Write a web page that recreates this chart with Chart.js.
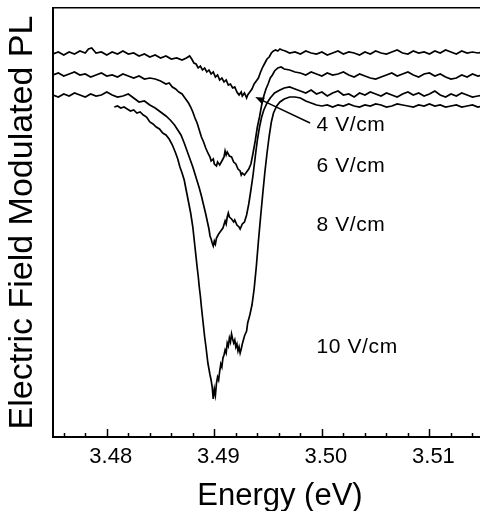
<!DOCTYPE html>
<html><head><meta charset="utf-8">
<script src="https://cdn.jsdelivr.net/npm/chart.js@4"></script>
<style>html,body{margin:0;padding:0;background:#fff;overflow:hidden}canvas{display:block}</style>
</head><body>
<canvas id="c" width="480" height="511"></canvas>
<script>
// ---- tick values ----
const MAJOR_TICKS = [3.48, 3.49, 3.50, 3.51];
const MINOR_TICKS = [3.476,3.478,3.482,3.484,3.486,3.488,3.492,3.494,3.496,3.498,3.502,3.504,3.506,3.508,3.512,3.514];
const SERIES_NAMES = ['4 V/cm', '6 V/cm', '8 V/cm', '10 V/cm'];

// ---- 4 V/cm ----
const E_4V = [
3.4750,3.4755,3.4760,3.4765,3.4770,3.4775,3.4780,3.4783,3.4786,3.4790,
3.4795,3.4800,3.4805,3.4810,3.4815,3.4820,3.4825,3.4830,3.4835,3.4840,
3.4845,3.4850,3.4855,3.4860,3.4865,3.4870,3.4874,3.4877,3.4879,3.4881,
3.4883,3.4885,3.4887,3.4889,3.4891,3.4893,3.4895,3.4897,3.4899,3.4901,
3.4903,3.4905,3.4907,3.4909,3.4911,3.4913,3.4915,3.4917,3.4919,3.4921,
3.4923,3.4925,3.4926,3.4928,3.4930,3.4931,3.4933,3.4935,3.4937,3.4939,
3.4941,3.4943,3.4945,3.4947,3.4949,3.4951,3.4953,3.4955,3.4957,3.4959,
3.4961,3.4963,3.4966,3.4970,3.4975,3.4980,3.4985,3.4990,3.4995,3.5000,
3.5005,3.5010,3.5015,3.5020,3.5025,3.5030,3.5035,3.5040,3.5045,3.5050,
3.5055,3.5060,3.5065,3.5070,3.5075,3.5080,3.5085,3.5090,3.5095,3.5100,
3.5105,3.5110,3.5115,3.5120,3.5125,3.5130,3.5135,3.5140,3.5145,3.5150];
const PL_4V = [
38.3,38.5,38.2,38.5,38.3,38.6,38.4,38.8,38.9,38.4,
38.5,38.2,38.5,38.3,38.6,38.3,38.4,38.1,38.3,38.0,
38.2,37.9,38.1,37.8,37.9,37.7,37.9,38.1,37.8,37.4,
37.3,36.9,37.1,36.7,36.9,36.5,36.7,36.3,36.5,36.0,
36.2,35.7,35.9,35.5,35.7,35.2,35.3,34.9,35.0,34.5,
34.2,34.5,34.1,34.4,33.9,34.2,34.5,34.8,35.3,35.6,
35.9,36.5,37.0,37.4,37.8,38.0,38.4,38.6,38.7,38.6,
38.8,38.7,38.6,38.4,38.5,38.3,38.6,38.4,38.3,38.5,
38.2,38.4,38.6,38.3,38.5,38.4,38.2,38.5,38.3,38.6,
38.4,38.3,38.5,38.7,38.4,38.3,38.6,38.4,38.5,38.3,
38.6,38.4,38.7,38.5,38.3,38.6,38.4,38.5,38.4,38.5];

// ---- 6 V/cm ----
const E_6V = [
3.4750,3.4755,3.4760,3.4765,3.4770,3.4775,3.4780,3.4785,3.4790,3.4795,
3.4800,3.4805,3.4810,3.4815,3.4820,3.4825,3.4830,3.4835,3.4840,3.4845,
3.4850,3.4855,3.4858,3.4861,3.4864,3.4867,3.4870,3.4872,3.4874,3.4876,
3.4878,3.4880,3.4882,3.4884,3.4886,3.4888,3.4890,3.4892,3.4894,3.4896,
3.4897,3.4899,3.4900,3.4902,3.4903,3.4905,3.4907,3.4909,3.4910,3.4911,
3.4912,3.4914,3.4916,3.4918,3.4920,3.4922,3.4924,3.4925,3.4926,3.4928,
3.4930,3.4932,3.4934,3.4936,3.4938,3.4940,3.4942,3.4944,3.4946,3.4948,
3.4950,3.4952,3.4954,3.4956,3.4959,3.4962,3.4965,3.4970,3.4975,3.4980,
3.4985,3.4990,3.4995,3.5000,3.5005,3.5010,3.5015,3.5020,3.5025,3.5030,
3.5035,3.5040,3.5045,3.5050,3.5055,3.5060,3.5065,3.5070,3.5075,3.5080,
3.5085,3.5090,3.5095,3.5100,3.5105,3.5110,3.5115,3.5120,3.5125,3.5130,
3.5135,3.5140,3.5145,3.5150];
const PL_6V = [
36.2,36.4,36.1,36.3,36.5,36.2,36.3,36.0,36.2,36.4,
36.1,36.2,36.0,36.3,36.1,35.9,36.1,35.8,35.9,35.8,
35.6,35.3,35.4,35.0,34.8,34.5,34.3,34.0,33.7,33.4,
33.0,32.5,31.9,31.4,30.7,30.0,29.5,28.9,28.4,28.0,
27.6,27.8,27.3,27.1,27.5,27.2,27.6,28.0,28.6,28.2,
28.5,28.1,28.0,27.5,27.3,26.8,26.6,26.2,26.4,26.2,
26.5,26.8,27.3,28.4,29.6,31.0,32.0,33.2,34.1,34.8,
35.3,35.9,36.2,36.6,36.9,37.0,36.8,36.7,36.5,36.4,
36.2,36.5,36.3,36.1,36.4,36.2,36.3,36.5,36.2,36.0,
36.3,36.1,35.9,35.8,36.0,36.2,36.4,36.1,36.3,36.5,
36.2,36.0,36.3,36.4,36.1,36.3,36.0,35.8,35.9,36.2,
36.0,36.3,36.1,36.2];

// ---- 8 V/cm ----
const E_8V = [
3.4750,3.4755,3.4760,3.4765,3.4770,3.4775,3.4780,3.4785,3.4790,3.4795,
3.4800,3.4805,3.4810,3.4815,3.4820,3.4825,3.4830,3.4835,3.4840,3.4845,
3.4850,3.4855,3.4859,3.4863,3.4866,3.4869,3.4872,3.4875,3.4878,3.4880,
3.4882,3.4884,3.4886,3.4888,3.4890,3.4892,3.4894,3.4895,3.4896,3.4897,
3.4898,3.4899,3.4900,3.4901,3.4902,3.4904,3.4906,3.4908,3.4910,3.4911,
3.4912,3.4913,3.4914,3.4916,3.4918,3.4919,3.4921,3.4923,3.4924,3.4926,
3.4928,3.4930,3.4932,3.4934,3.4936,3.4938,3.4940,3.4942,3.4944,3.4946,
3.4949,3.4952,3.4956,3.4961,3.4965,3.4970,3.4975,3.4980,3.4985,3.4990,
3.4995,3.5000,3.5005,3.5010,3.5015,3.5020,3.5025,3.5030,3.5035,3.5040,
3.5045,3.5050,3.5055,3.5060,3.5065,3.5070,3.5075,3.5080,3.5085,3.5090,
3.5095,3.5100,3.5105,3.5110,3.5115,3.5120,3.5125,3.5130,3.5135,3.5140,
3.5145,3.5150];
const PL_8V = [
34.2,34.0,34.3,34.1,34.4,34.2,34.0,34.3,34.1,34.2,
34.5,34.2,34.0,34.1,34.3,33.9,33.5,33.6,33.2,32.9,
32.5,32.1,31.7,31.2,30.7,30.2,29.4,28.5,27.6,27.0,
26.3,25.6,24.9,24.1,23.2,22.3,21.3,20.8,20.1,19.8,
19.4,19.1,19.6,19.3,19.9,20.3,20.6,20.9,21.6,21.3,
22.0,22.4,22.0,21.8,21.5,21.7,21.2,21.0,20.8,21.3,
21.5,22.2,23.3,24.7,26.2,28.0,29.7,31.0,32.0,32.7,
33.4,33.9,34.4,34.7,34.9,35.0,34.8,34.6,34.4,34.7,
34.3,34.5,34.1,34.4,34.6,34.2,34.3,34.0,34.4,34.2,
34.5,34.3,34.1,34.4,34.2,34.0,34.3,34.5,34.2,34.4,
34.1,34.3,34.6,34.2,34.0,34.3,34.1,34.4,34.2,34.0,
34.1,34.2];

// ---- 10 V/cm ----
const E_10V = [
3.4807,3.4810,3.4813,3.4816,3.4819,3.4822,3.4825,3.4828,3.4831,3.4834,
3.4837,3.4840,3.4843,3.4846,3.4849,3.4852,3.4855,3.4858,3.4861,3.4864,
3.4866,3.4868,3.4870,3.4872,3.4874,3.4876,3.4878,3.4880,3.4881,3.4882,
3.4883,3.4884,3.4885,3.4886,3.4887,3.4888,3.4889,3.4890,3.4891,3.4892,
3.4893,3.4894,3.4895,3.4896,3.4897,3.4898,3.4899,3.4900,3.4901,3.4902,
3.4903,3.4904,3.4905,3.4906,3.4907,3.4908,3.4909,3.4910,3.4911,3.4912,
3.4913,3.4914,3.4915,3.4916,3.4917,3.4918,3.4919,3.4920,3.4921,3.4922,
3.4923,3.4924,3.4925,3.4926,3.4928,3.4930,3.4931,3.4933,3.4935,3.4937,
3.4939,3.4941,3.4943,3.4945,3.4947,3.4949,3.4951,3.4953,3.4955,3.4958,
3.4961,3.4965,3.4970,3.4975,3.4980,3.4985,3.4990,3.4995,3.5000,3.5005,
3.5010,3.5015,3.5020,3.5025,3.5030,3.5035,3.5040,3.5045,3.5050,3.5055,
3.5060,3.5065,3.5070,3.5075,3.5080,3.5085,3.5090,3.5095,3.5100,3.5105,
3.5110,3.5115,3.5120,3.5125,3.5130,3.5135,3.5140,3.5145,3.5150];
const PL_10V = [
33.0,33.1,32.9,33.0,32.8,32.6,32.7,32.4,32.5,32.2,
32.0,31.5,31.3,31.0,30.8,30.4,30.2,29.8,29.2,28.4,
27.8,27.0,26.4,25.7,24.6,23.5,22.4,21.0,20.0,19.0,
18.0,17.0,16.1,15.0,14.1,13.0,12.0,11.0,10.0,9.2,
8.3,7.4,6.8,6.2,5.7,5.0,3.8,4.8,4.2,5.4,
6.0,5.7,6.6,7.3,7.0,7.9,8.2,8.7,8.4,9.4,
9.1,9.9,9.5,10.3,9.8,9.4,9.7,9.0,9.3,8.6,
9.0,8.4,8.8,9.3,10.1,10.6,11.4,12.2,13.2,14.8,
17.0,19.6,22.0,24.3,26.5,28.4,30.1,31.5,32.4,33.1,
33.5,33.8,34.0,34.0,33.9,33.6,33.4,33.2,33.1,33.2,
33.0,33.2,33.1,33.3,33.1,33.0,33.2,33.1,33.3,33.2,
33.0,33.1,33.3,33.2,33.1,33.0,33.2,33.1,33.3,33.1,
33.2,33.0,33.1,33.2,33.0,33.1,33.2,33.0,33.1];

// ---- annotation anchors (data coordinates) ----
const ANNOT = {
  labels: [{x:3.4995, y:30.6}, {x:3.4995, y:26.5}, {x:3.4995, y:20.6}, {x:3.4995, y:8.4}],
  arrowFrom: {x:3.4989, y:31.4},
  arrowTo: {x:3.4938, y:34.0},
  xTitleAt: 3.4961
};

const FONT = '"Liberation Sans", Arial, Helvetica, sans-serif';
const toPoints = (E, P) => E.map((e, i) => ({x: e, y: P[i]}));
const SERIES = [[E_4V, PL_4V], [E_6V, PL_6V], [E_8V, PL_8V], [E_10V, PL_10V]];

const annotPlugin = {
  id: 'annot',
  afterDraw(chart) {
    const {ctx, scales: {x, y}} = chart;
    const yb = y.getPixelForValue(y.min);
    ctx.save();
    ctx.strokeStyle = '#000';
    ctx.fillStyle = '#000';
    ctx.lineWidth = 1.5;
    const tick = (v, len) => {
      const px = Math.round(x.getPixelForValue(v)) + 0.5;
      ctx.beginPath(); ctx.moveTo(px, yb); ctx.lineTo(px, yb - len); ctx.stroke();
    };
    MAJOR_TICKS.forEach(v => tick(v, 8));
    MINOR_TICKS.forEach(v => tick(v, 4));

    ctx.font = '21px ' + FONT;
    ctx.textAlign = 'left';
    ctx.textBaseline = 'alphabetic';
    try { ctx.letterSpacing = '0.6px'; } catch (e) {}
    SERIES_NAMES.forEach((t, i) => {
      const p = ANNOT.labels[i];
      ctx.fillText(t, x.getPixelForValue(p.x), y.getPixelForValue(p.y));
    });
    try { ctx.letterSpacing = '0px'; } catch (e) {}

    // arrow
    const x1 = x.getPixelForValue(ANNOT.arrowFrom.x), y1 = y.getPixelForValue(ANNOT.arrowFrom.y);
    const x2 = x.getPixelForValue(ANNOT.arrowTo.x), y2 = y.getPixelForValue(ANNOT.arrowTo.y);
    const ang = Math.atan2(y2 - y1, x2 - x1);
    ctx.lineWidth = 1.4;
    ctx.beginPath(); ctx.moveTo(x1, y1); ctx.lineTo(x2 - 6 * Math.cos(ang), y2 - 6 * Math.sin(ang)); ctx.stroke();
    ctx.beginPath();
    ctx.moveTo(x2, y2);
    ctx.lineTo(x2 - 9 * Math.cos(ang) + 3.5 * Math.sin(ang), y2 - 9 * Math.sin(ang) - 3.5 * Math.cos(ang));
    ctx.lineTo(x2 - 9 * Math.cos(ang) - 3.5 * Math.sin(ang), y2 - 9 * Math.sin(ang) + 3.5 * Math.cos(ang));
    ctx.closePath(); ctx.fill();

    // x-axis title
    ctx.font = '31px ' + FONT;
    ctx.textAlign = 'center';
    ctx.fillText('Energy (eV)', x.getPixelForValue(ANNOT.xTitleAt), chart.height - 6);
    ctx.restore();
  }
};

new Chart(document.getElementById('c'), {
  type: 'line',
  data: {
    datasets: SERIES.map((s, i) => ({
      label: SERIES_NAMES[i],
      data: toPoints(s[0], s[1]),
      borderColor: '#000',
      borderWidth: 1.7,
      pointRadius: 0,
      tension: 0,
      fill: false
    }))
  },
  options: {
    responsive: false,
    animation: false,
    devicePixelRatio: 1,
    layout: {padding: 0},
    plugins: {legend: {display: false}, tooltip: {enabled: false}},
    scales: {
      x: {
        type: 'linear', position: 'bottom', min: 3.475, max: 3.5147,
        afterBuildTicks: s => { s.ticks = MAJOR_TICKS.map(v => ({value: v})); },
        afterFit: s => { s.height = 74; },
        grid: {display: false, drawTicks: false},
        border: {display: true, color: '#000', width: 2},
        ticks: {color: '#000', font: {family: FONT, size: 22}, padding: 7, labelOffset: 4,
                maxRotation: 0, autoSkip: false, callback: v => Number(v).toFixed(2)}
      },
      xTop: {
        type: 'linear', position: 'top', min: 3.475, max: 3.5147,
        afterFit: s => { s.height = 8; },
        grid: {display: false, drawTicks: false},
        border: {display: true, color: '#000', width: 1.5},
        ticks: {display: false}
      },
      y: {
        type: 'linear', position: 'left', min: 0, max: 42.9,
        afterFit: s => { s.width = 53; },
        grid: {display: false, drawTicks: false},
        border: {display: true, color: '#000', width: 2},
        ticks: {display: false},
        title: {display: true, text: 'Electric Field Modulated PL', color: '#000',
                font: {family: FONT, size: 34, lineHeight: 1}, padding: {top: 6, bottom: 0}}
      }
    }
  },
  plugins: [annotPlugin]
});
</script>
</body></html>
